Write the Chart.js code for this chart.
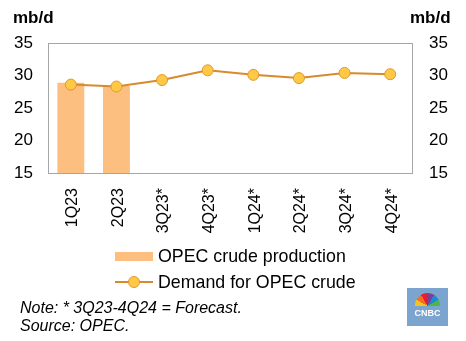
<!DOCTYPE html>
<html>
<head>
<meta charset="utf-8">
<script src="https://cdn.jsdelivr.net/npm/chart.js@4.4.1/dist/chart.umd.min.js"></script>
<style>
  html, body { margin: 0; padding: 0; background: #fff; }
  body { font-family: "Liberation Sans", Arial, sans-serif; color: #000; }
  #wrap { position: relative; width: 466px; height: 341px; overflow: hidden; }
  #opecChart { position: absolute; left: 0; top: 0; }
  .unit { position: absolute; top: 8px; font-weight: bold; font-size: 17px; }
  .legend { position: absolute; left: 115px; font-size: 17.8px; line-height: 20px; white-space: nowrap; }
  .legend .sw { display: inline-block; width: 38px; height: 9px; background: #fdbf80; vertical-align: middle; margin-right: 5px; position: relative; top: -1px; }
  .legend .ln { display: inline-block; width: 38px; height: 12px; vertical-align: middle; margin-right: 5px; position: relative; top: -1px; }
  .legend .ln:before { content: ""; position: absolute; left: 0; right: 0; top: 5px; height: 2px; background: #d88a2c; }
  .legend .ln:after { content: ""; position: absolute; left: 13px; top: 0; width: 10px; height: 10px; border-radius: 50%; background: #ffc845; border: 1px solid #e0982f; }
  .note { position: absolute; left: 20px; font-style: italic; font-size: 16px; line-height: 18px; }
  #logo { position: absolute; left: 407px; top: 288px; width: 41px; height: 38px; background: #7ba4cf; color: #fff; font-weight: bold; font-size: 9px; text-align: center; }
  #logo .bird { position: absolute; left: 8px; top: 5px; width: 25px; height: 13px; border-radius: 13px 13px 0 0;
    background: conic-gradient(from -90deg at 50% 100%, #f8c21c 0 30deg, #f37021 30deg 60deg, #e0203b 60deg 90deg, #7b3f98 90deg 120deg, #1e88d0 120deg 150deg, #4cb748 150deg 180deg, transparent 180deg); }
  #logo .word { position: absolute; left: 0; right: 0; top: 20px; line-height: 10px; }
</style>
</head>
<body>
<div id="wrap">
  <canvas id="opecChart" width="466" height="341"></canvas>
  <div class="unit" style="left:13px">mb/d</div>
  <div class="unit" style="left:410px">mb/d</div>
  <div class="legend" style="top:246px"><span class="sw"></span>OPEC crude production</div>
  <div class="legend" style="top:272px"><span class="ln"></span>Demand for OPEC crude</div>
  <div class="note" style="top:299px">Note: * 3Q23-4Q24 = Forecast.</div>
  <div class="note" style="top:317px">Source: OPEC.</div>
  <div id="logo"><div class="bird"></div><div class="word">CNBC</div></div>
</div>
<script>
// quarterly figures, mb/d
const quarters = ["1Q23", "2Q23", "3Q23*", "4Q23*", "1Q24*", "2Q24*", "3Q24*", "4Q24*"];
const production = [28.9, 28.4, null, null, null, null, null, null];
const demand = [28.6, 28.3, 29.3, 30.8, 30.1, 29.6, 30.4, 30.2];
const yTicks = [15, 20, 25, 30, 35];

const tickFont = { family: "'Liberation Sans', Arial, sans-serif", size: 17 };

// grey box around the plot area
const frame = {
  id: "frame",
  beforeDatasetsDraw(chart) {
    const a = chart.chartArea;
    const c = chart.ctx;
    c.save();
    c.strokeStyle = "#a6a6a6";
    c.lineWidth = 1;
    c.strokeRect(Math.round(a.left) + 0.5, Math.round(a.top) + 0.5,
      Math.round(a.right - a.left) - 1, Math.round(a.bottom - a.top));
    c.restore();
  }
};

function fixedTicks(axis) {
  axis.ticks = yTicks.map(v => ({ value: v }));
}

new Chart(document.getElementById("opecChart"), {
  data: {
    labels: quarters,
    datasets: [
      {
        type: "line",
        label: "Demand for OPEC crude",
        data: demand,
        borderColor: "#d88a2c",
        borderWidth: 2,
        pointBackgroundColor: "#ffc845",
        pointBorderColor: "#e0982f",
        pointBorderWidth: 1,
        pointRadius: 5.5,
        tension: 0,
        order: 1
      },
      {
        type: "bar",
        label: "OPEC crude production",
        data: production,
        backgroundColor: "#fdbf80",
        barPercentage: 0.59,
        categoryPercentage: 1,
        order: 2
      }
    ]
  },
  options: {
    responsive: false,
    animation: false,
    layout: { padding: { top: 43, bottom: 101, left: 0, right: 0 } },
    plugins: { legend: { display: false }, tooltip: { enabled: false } },
    scales: {
      x: {
        grid: { display: false },
        border: { display: false },
        ticks: { color: "#000", font: { ...tickFont, size: 16 }, minRotation: 90, maxRotation: 90, padding: 7, labelOffset: 2 },
        afterFit(axis) { axis.height = 67; }
      },
      y: {
        position: "left",
        min: 15, max: 35,
        grid: { display: false, drawTicks: false },
        border: { display: false },
        ticks: { color: "#000", font: tickFont, padding: 15 },
        afterBuildTicks: fixedTicks,
        afterFit(axis) { axis.width = 48; }
      },
      y2: {
        position: "right",
        min: 15, max: 35,
        grid: { display: false, drawTicks: false },
        border: { display: false },
        ticks: { color: "#000", font: tickFont, padding: 16 },
        afterBuildTicks: fixedTicks,
        afterFit(axis) { axis.width = 53; }
      }
    }
  },
  plugins: [frame]
});
</script>
</body>
</html>
